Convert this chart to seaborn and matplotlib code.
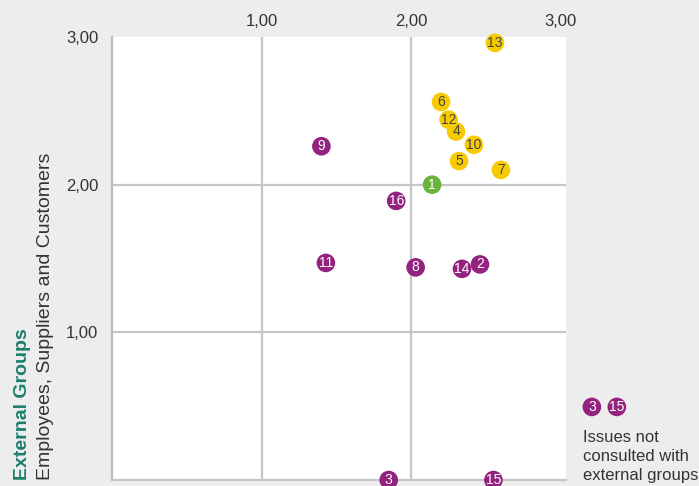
import matplotlib
matplotlib.use("Agg")
import matplotlib.pyplot as plt
import seaborn as sns
import pandas as pd

# issue numbers and their scores (internal vs external groups)
issues = [13, 6, 12, 4, 10, 5, 7, 1, 9, 16, 11, 8, 14, 2, 3, 15]
x_score = [2.56, 2.20, 2.25, 2.30, 2.42, 2.32, 2.60, 2.14, 1.40, 1.90, 1.43, 2.03, 2.34, 2.46, 1.85, 2.55]
y_score = [2.96, 2.56, 2.44, 2.36, 2.27, 2.16, 2.10, 2.00, 2.26, 1.89, 1.47, 1.44, 1.43, 1.46, 0.00, 0.00]
group = ["high"] * 7 + ["mid"] + ["low"] * 8

ticks = [1, 2, 3]
tick_labels = ["1,00", "2,00", "3,00"]
not_consulted = [3, 15]

palette = {"high": "#f7cb00", "mid": "#6cb33e", "low": "#93237f"}
text_col = {"high": "#444444", "mid": "white", "low": "white"}

df = pd.DataFrame({"issue": issues, "x": x_score, "y": y_score, "group": group})

sns.set_style("white")
plt.rcParams["font.family"] = ["Liberation Sans", "DejaVu Sans"]

fig = plt.figure(figsize=(6.99, 4.86), dpi=100, facecolor="#ededed")
ax = fig.add_axes([0.1602, 0.0123, 0.6495, 0.9116])
ax.set_facecolor("white")

ax.set_xlim(0, 3.035)
ax.set_ylim(0, 3.0)

# grid lines
for t in [1, 2]:
    ax.axvline(t, color="#c6c6c6", lw=1.6, zorder=1)
    ax.axhline(t, color="#c6c6c6", lw=1.6, zorder=1)

sns.scatterplot(data=df, x="x", y="y", hue="group", palette=palette, s=180,
                edgecolor="none", legend=False, ax=ax, zorder=3, clip_on=False)

for _, r in df.iterrows():
    ax.text(r["x"], r["y"], str(r["issue"]), ha="center", va="center",
            fontsize=10, color=text_col[r["group"]], zorder=4, clip_on=False)

for side in ["top", "right"]:
    ax.spines[side].set_visible(False)
ax.spines["left"].set_color("#bdbdbd")
ax.spines["left"].set_linewidth(1.6)
ax.spines["bottom"].set_color("#c6c6c6")
ax.spines["bottom"].set_linewidth(1.6)

ax.xaxis.tick_top()
ax.set_xticks(ticks)
ax.set_xticklabels(tick_labels)
ax.set_yticks(ticks)
ax.set_yticklabels(tick_labels)
ax.tick_params(axis="x", length=0, pad=6, labelsize=12, labelcolor="#333333")
ax.tick_params(axis="y", length=0, pad=10, labelsize=12, labelcolor="#333333")
ax.set_xlabel("")
ax.set_ylabel("")

# two-part y label
fig.text(0.032, 0.012, "External Groups", rotation=90, ha="center", va="bottom",
         fontsize=14, fontweight="bold", color="#1c7f6c")
fig.text(0.065, 0.012, "Employees, Suppliers and Customers", rotation=90,
         ha="center", va="bottom", fontsize=14, color="#333333")

# note for issues not consulted
for i, n in enumerate(not_consulted):
    xa = 1.057 + i * 0.055
    ax.scatter([xa], [0.165], s=180, color=palette["low"], transform=ax.transAxes,
               clip_on=False, zorder=3, edgecolor="none")
    ax.text(xa, 0.165, str(n), transform=ax.transAxes, ha="center", va="center",
            fontsize=10, color="white", zorder=4)
fig.text(0.834, 0.116, "Issues not\nconsulted with\nexternal groups", ha="left",
         va="top", fontsize=12, color="#333333", linespacing=1.35)

fig.savefig("out.png", dpi=100, facecolor=fig.get_facecolor())
